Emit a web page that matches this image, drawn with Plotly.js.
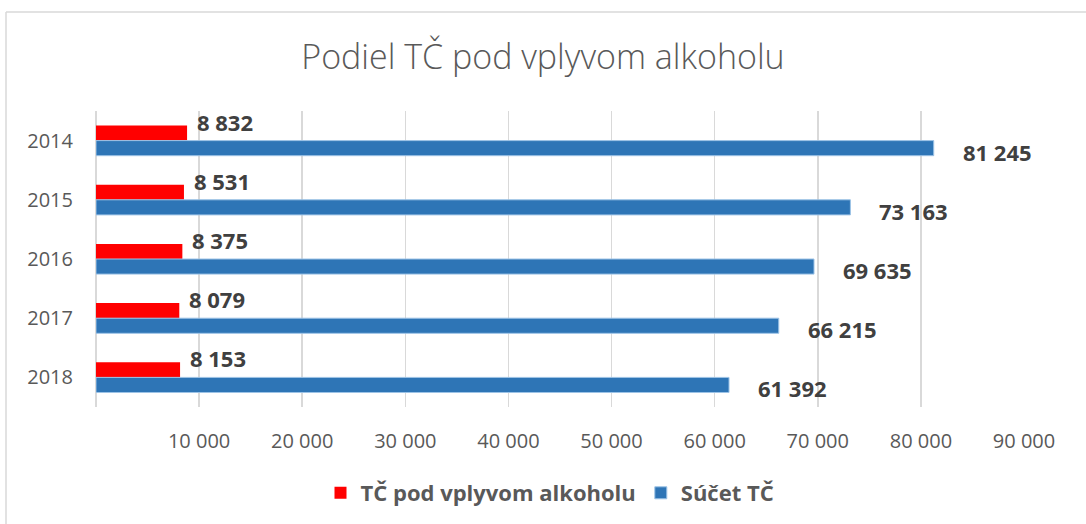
<!DOCTYPE html>
<html>
<head>
<meta charset="utf-8">
<script src="https://cdn.plot.ly/plotly-3.0.1.min.js"></script>
<style>html,body{margin:0;padding:0;background:#fff;}#chart{width:1086px;height:524px;}</style>
</head>
<body>
<div id="chart"></div>
<script>
const years = ['2014', '2015', '2016', '2017', '2018'];
const alcoholValues = [8832, 8531, 8375, 8079, 8153];
const totalValues = [81245, 73163, 69635, 66215, 61392];
const seriesNames = ['TČ pod vplyvom alkoholu', 'Súčet TČ'];
const xTicks = [10000, 20000, 30000, 40000, 50000, 60000, 70000, 80000, 90000];

function fmt(v) {
  return String(v).replace(/\B(?=(\d{3})+(?!\d))/g, ' ');
}

const traces = [
  {type: 'bar', orientation: 'h', name: seriesNames[0], y: years, x: alcoholValues,
   marker: {color: '#ff0000'}, hoverinfo: 'x'},
  {type: 'bar', orientation: 'h', name: seriesNames[1], y: years, x: totalValues,
   marker: {color: '#2e75b6', line: {color: '#9dc3e6', width: 1}}, hoverinfo: 'x'}
];

const annotations = [];
years.forEach((yr, i) => {
  annotations.push({x: alcoholValues[i], y: i, xref: 'x', yref: 'y', text: '<b>' + fmt(alcoholValues[i]) + '</b>',
    showarrow: false, xanchor: 'left', yanchor: 'middle', xshift: 8, yshift: 19,
    font: {family: 'Open Sans', size: 22, color: '#404040'}});
  annotations.push({x: totalValues[i], y: i, xref: 'x', yref: 'y', text: '<b>' + fmt(totalValues[i]) + '</b>',
    showarrow: false, xanchor: 'left', yanchor: 'middle', xshift: 27, yshift: -11,
    font: {family: 'Open Sans', size: 22, color: '#404040'}});
});

const layout = {
  width: 1086, height: 524,
  margin: {l: 96, r: 62, t: 111, b: 117, autoexpand: false},
  paper_bgcolor: '#ffffff', plot_bgcolor: '#ffffff',
  separators: ', ',
  title: {text: 'Podiel TČ pod vplyvom alkoholu', x: 0.5, xanchor: 'center', y: 0.891, yanchor: 'middle',
    font: {family: 'Open Sans', size: 34, color: '#595959', weight: 300}},
  barmode: 'group', bargap: 0.49, bargroupgap: 0,
  xaxis: {range: [0, 90000], tickvals: xTicks, tickformat: ',d', showgrid: true, gridcolor: '#d9d9d9', gridwidth: 1.5,
    zeroline: true, zerolinecolor: '#d9d9d9', zerolinewidth: 1.5, showline: false,
    ticks: '', ticklabelstandoff: 20,
    tickfont: {family: 'Open Sans', size: 20, color: '#595959'}, fixedrange: true},
  yaxis: {type: 'category', range: [4.5, -0.5], autorange: false, showgrid: false, zeroline: false, showline: false,
    ticks: '', ticklabelstandoff: 22,
    tickfont: {family: 'Open Sans', size: 20, color: '#595959'}, fixedrange: true},
  legend: {orientation: 'h', x: 0.5 - 10 / 928, xanchor: 'center', y: (407 - 493) / 296, yanchor: 'middle',
    font: {family: 'Open Sans', size: 22, color: '#595959', weight: 'bold'}, traceorder: 'normal'},
  annotations: annotations,
  shapes: [
    {type: 'line', xref: 'paper', yref: 'paper', x0: (6 - 96) / 928, x1: (6 - 96) / 928, y0: (407 - 12) / 296, y1: (407 - 600) / 296,
     line: {color: '#d9d9d9', width: 1.5}},
    {type: 'line', xref: 'paper', yref: 'paper', x0: (6 - 96) / 928, x1: (1100 - 96) / 928, y0: (407 - 12) / 296, y1: (407 - 12) / 296,
     line: {color: '#d9d9d9', width: 1.5}}
  ],
  showlegend: true
};

Plotly.newPlot('chart', traces, layout, {displayModeBar: false, staticPlot: true});
</script>
</body>
</html>
